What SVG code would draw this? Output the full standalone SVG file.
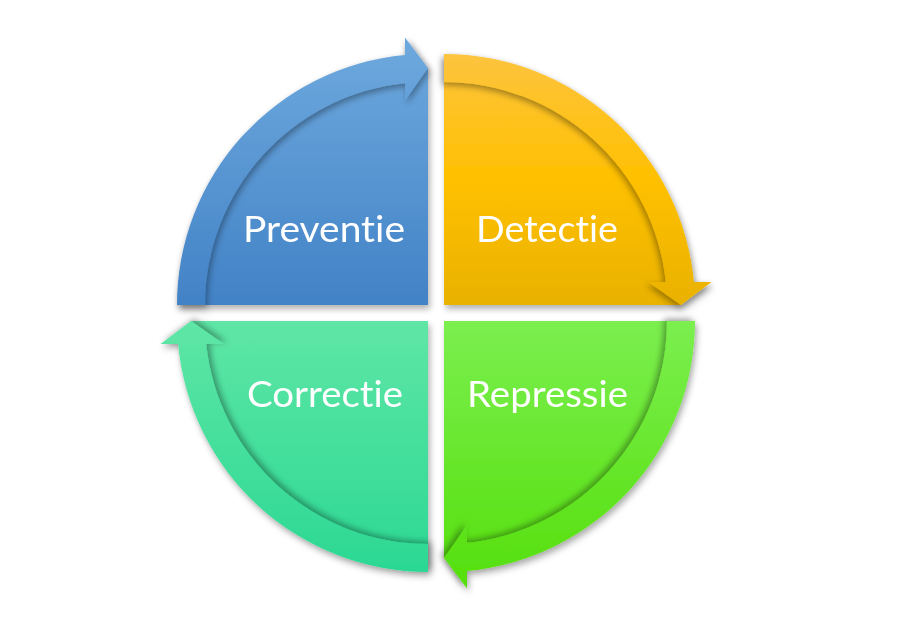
<svg xmlns="http://www.w3.org/2000/svg" width="915" height="629" viewBox="0 0 915 629">
<style>
.lbl{font-family:Lato,"Liberation Sans",sans-serif;font-size:36px;fill:#ffffff;font-variant-ligatures:none;font-feature-settings:"liga" 0,"clig" 0}
</style>
<defs>
<linearGradient id="gBlue" gradientUnits="userSpaceOnUse" x1="0" y1="40" x2="0" y2="305">
<stop offset="0" stop-color="#6ea9de"/><stop offset="1" stop-color="#4282c6"/>
</linearGradient>
<linearGradient id="gYellow" gradientUnits="userSpaceOnUse" x1="0" y1="54" x2="0" y2="305">
<stop offset="0" stop-color="#fdc43e"/><stop offset="0.5" stop-color="#ffc000"/><stop offset="1" stop-color="#e9b200"/>
</linearGradient>
<linearGradient id="gGreen" gradientUnits="userSpaceOnUse" x1="0" y1="321" x2="0" y2="588">
<stop offset="0" stop-color="#7bef4f"/><stop offset="1" stop-color="#55df0c"/>
</linearGradient>
<linearGradient id="gTeal" gradientUnits="userSpaceOnUse" x1="0" y1="321" x2="0" y2="572">
<stop offset="0" stop-color="#5fe6a6"/><stop offset="1" stop-color="#2bd893"/>
</linearGradient>
<filter id="outer" x="-10%" y="-10%" width="125%" height="125%">
<feDropShadow dx="2" dy="4" stdDeviation="3" flood-color="#000" flood-opacity="0.3"/>
</filter>
<filter id="sBlue" x="-10%" y="-10%" width="125%" height="125%">
<feDropShadow dx="2" dy="3" stdDeviation="3" flood-color="#000" flood-opacity="0.35"/>
</filter>
<filter id="sYellow" x="-10%" y="-10%" width="125%" height="125%">
<feDropShadow dx="-2" dy="3" stdDeviation="3" flood-color="#000" flood-opacity="0.35"/>
</filter>
<filter id="sGreen" x="-10%" y="-10%" width="125%" height="125%">
<feDropShadow dx="-3" dy="-2" stdDeviation="3" flood-color="#000" flood-opacity="0.35"/>
</filter>
<filter id="sTeal" x="-10%" y="-10%" width="125%" height="125%">
<feDropShadow dx="3" dy="-2" stdDeviation="3" flood-color="#000" flood-opacity="0.35"/>
</filter>
</defs>
<rect width="915" height="629" fill="#ffffff"/>

<g id="preventie" filter="url(#outer)">
<path d="M428,305 L191,305 A237,237 0 0 1 428,68 Z" fill="url(#gBlue)"/>
<path filter="url(#sBlue)" d="M177,305 A251,251 0 0 1 405,55.1 L405,37.5 L428,68 L405,100.8 L405,83.2 A223,223 0 0 0 205,305 Z" fill="url(#gBlue)"/>
<text class="lbl" x="243" y="242" textLength="162" lengthAdjust="spacingAndGlyphs">Preventie</text>
</g>

<g id="detectie" filter="url(#outer)">
<path d="M444,305 L444,68 A237,237 0 0 1 681,305 Z" fill="url(#gYellow)"/>
<path filter="url(#sYellow)" d="M444,54 A251,251 0 0 1 693.9,282 L711.5,282 L681,305 L648.2,282 L665.8,282 A223,223 0 0 0 444,82 Z" fill="url(#gYellow)"/>
<text class="lbl" x="476" y="242" textLength="142" lengthAdjust="spacingAndGlyphs">Detectie</text>
</g>

<g id="repressie" filter="url(#outer)">
<path d="M444,321 L681,321 A237,237 0 0 1 444,558 Z" fill="url(#gGreen)"/>
<path filter="url(#sGreen)" d="M695,321 A251,251 0 0 1 467,570.9 L467,588.5 L444,558 L467,525.2 L467,542.8 A223,223 0 0 0 667,321 Z" fill="url(#gGreen)"/>
<text class="lbl" x="467" y="407" textLength="161" lengthAdjust="spacingAndGlyphs">Repressie</text>
</g>

<g id="correctie" filter="url(#outer)">
<path d="M428,321 L428,558 A237,237 0 0 1 191,321 Z" fill="url(#gTeal)"/>
<path filter="url(#sTeal)" d="M428,572 A251,251 0 0 1 178.1,344 L160.5,344 L191,321 L223.8,344 L206.2,344 A223,223 0 0 0 428,544 Z" fill="url(#gTeal)"/>
<text class="lbl" x="247" y="407" textLength="156" lengthAdjust="spacingAndGlyphs">Correctie</text>
</g>

<g id="connectors"></g>
</svg>
